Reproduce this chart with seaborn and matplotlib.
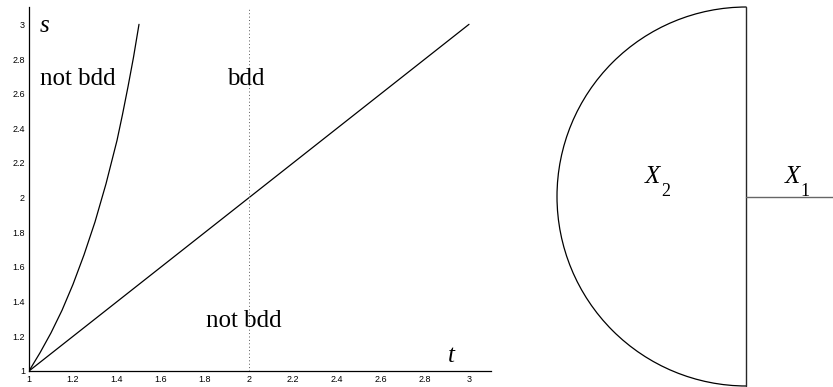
import matplotlib
matplotlib.use('Agg')
import matplotlib.pyplot as plt
from matplotlib.patches import Arc
import pandas as pd
import seaborn as sns

# values
curve_t = [1.00, 1.05, 1.10, 1.15, 1.20, 1.25, 1.30, 1.35, 1.40, 1.425, 1.45, 1.475, 1.50]
curve_s = [1.00, 1.105, 1.22, 1.35, 1.50, 1.67, 1.86, 2.08, 2.33, 2.48, 2.64, 2.81, 3.00]
diag_t = [1.0, 3.0]
diag_s = [1.0, 3.0]
split_t = 2.0
xticks = [1.0, 1.2, 1.4, 1.6, 1.8, 2.0, 2.2, 2.4, 2.6, 2.8, 3.0]
yticks = [1.0, 1.2, 1.4, 1.6, 1.8, 2.0, 2.2, 2.4, 2.6, 2.8, 3.0]

# right picture: half disc X2 with segment X1
disc_r = 1.0
wall_x = [0.0, 0.0]
wall_y = [-1.0, 1.0]
seg_x = [0.0, 0.46]
seg_y = [0.0, 0.0]

sns.set_style('white')
plt.rcParams['text.color'] = 'black'

fig = plt.figure(figsize=(8.33, 3.87), dpi=100)
W, H = 833, 387

#grafico da esquerda
ax = fig.add_axes([29 / W, 16 / H, 462 / W, 364 / H])
curve = pd.DataFrame({'t': curve_t, 's': curve_s})
diag = pd.DataFrame({'t': diag_t, 's': diag_s})
sns.lineplot(data=curve, x='t', y='s', color='black', lw=0.9, sort=False, estimator=None, ax=ax)
sns.lineplot(data=diag, x='t', y='s', color='black', lw=0.9, sort=False, estimator=None, ax=ax)
ax.axvline(split_t, color='0.35', lw=0.7, ls=(0, (1, 2.5)))
ax.set_xlim(1, 3.1)
ax.set_ylim(1, 3.1)
ax.set_xticks(xticks)
ax.set_yticks(yticks)
ax.set_xticklabels(['%g' % v for v in xticks])
ax.set_yticklabels(['%g' % v for v in yticks])
ax.tick_params(direction='in', length=3.5, width=0.7, labelsize=6.5, pad=3, colors='black')
for lab in ax.get_xticklabels() + ax.get_yticklabels():
    lab.set_fontfamily('Liberation Sans')
ax.set_xlabel('')
ax.set_ylabel('')
sns.despine(ax=ax)
for sp in ['left', 'bottom']:
    ax.spines[sp].set_color('black')
    ax.spines[sp].set_linewidth(0.9)

serif = 'Liberation Serif'
ax.text(1.05, 2.955, 's', fontfamily=serif, style='italic', fontsize=18, va='baseline')
ax.text(2.905, 1.052, 't', fontfamily=serif, style='italic', fontsize=18, va='baseline')
ax.text(1.05, 2.648, 'not bdd', fontfamily=serif, fontsize=18, va='baseline')
ax.text(1.90, 2.648, 'bdd', fontfamily=serif, fontsize=18, va='baseline')
ax.text(1.805, 1.254, 'not bdd', fontfamily=serif, fontsize=18, va='baseline')

#desenho da direita
ax2 = fig.add_axes([557 / W, 1 / H, 276 / W, 379 / H])
ax2.add_patch(Arc((0, 0), 2 * disc_r, 2 * disc_r, theta1=90, theta2=270,
                  color='black', lw=0.9, clip_on=False))
ax2.plot(wall_x, wall_y, color='0.15', lw=1.0, clip_on=False)
ax2.plot(seg_x, seg_y, color='0.4', lw=1.0, clip_on=False)
ax2.set_xlim(-1, 0.4565)
ax2.set_ylim(-1, 1)
ax2.axis('off')
# X com indice abaixo
ax2.text(-0.538, 0.071, 'X', fontfamily=serif, style='italic', fontsize=18, va='baseline')
ax2.text(-0.452, 0.004, '2', fontfamily=serif, fontsize=13, va='baseline')
ax2.text(0.20, 0.071, 'X', fontfamily=serif, style='italic', fontsize=18, va='baseline')
ax2.text(0.285, 0.004, '1', fontfamily=serif, fontsize=13, va='baseline')

fig.savefig('out.png', dpi=100)
